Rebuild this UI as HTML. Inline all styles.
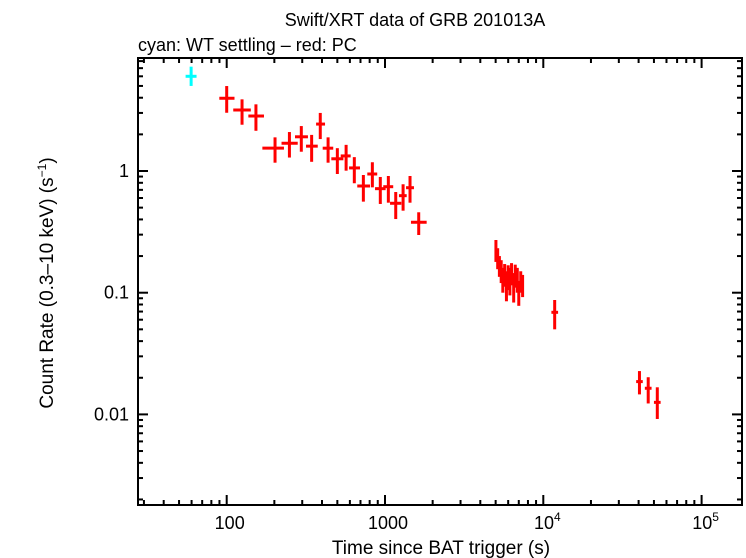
<!DOCTYPE html>
<html><head><meta charset="utf-8"><style>
body{margin:0;background:#fff;}
svg{display:block;font-family:"Liberation Sans",sans-serif;}
</style></head><body>
<svg id="chart" width="746" height="558" viewBox="0 0 746 558">
<text x="415" y="26" font-size="18" text-anchor="middle">Swift/XRT data of GRB 201013A</text>
<text x="138" y="51" font-size="18">cyan: WT settling – red: PC</text>
<text x="441" y="554" font-size="19" text-anchor="middle">Time since BAT trigger (s)</text>
<text transform="translate(53,283) rotate(-90)" font-size="19" text-anchor="middle">Count Rate (0.3–10 keV) (s<tspan font-size="12" dy="-7">−1</tspan><tspan dy="7">)</tspan></text>
<g id="ticks"></g><g id="marks"></g>
<rect x="138" y="58" width="604" height="447" fill="none" stroke="#000" stroke-width="2"/>
</svg>
<script>
const wtT=[59.6], wtTlo=[55], wtThi=[64.5], wtR=[6.0], wtRlo=[5.0], wtRhi=[7.2];
const pcT=[100,125,153,202,249,296,344,390,437,500,568,640,730,832,934,1050,1169,1301,1439,1633,
5020,5150,5280,5420,5550,5700,5850,6000,6150,6300,6500,6650,6850,7000,7200,7400,11800,40500,46000,52500];
const pcTlo=[89.8,110,137,168,222,270,317,367,404,458,525,593,668,773,865,975,1076,1225,1358,1459,
4950,5080,5200,5340,5470,5620,5770,5910,6060,6200,6400,6550,6750,6900,7100,7300,11250,38600,43800,50000];
const pcThi=[112,142,172,230,281,326,376,418,471,546,607,695,804,893,1009,1127,1268,1371,1524,1833,
5090,5220,5360,5500,5630,5780,5930,6090,6240,6400,6600,6750,6950,7100,7300,7550,12400,42500,48300,55100];
const pcR=[3.96,3.17,2.83,1.54,1.69,1.91,1.60,2.43,1.54,1.26,1.33,1.06,0.753,0.945,0.716,0.743,0.543,0.627,0.729,0.379,
0.224,0.19,0.165,0.15,0.128,0.14,0.118,0.135,0.125,0.145,0.115,0.14,0.13,0.1,0.125,0.115,0.069,0.0186,0.0164,0.01256];
const pcRlo=[3.01,2.40,2.14,1.17,1.29,1.44,1.19,1.83,1.17,0.945,1.006,0.793,0.560,0.734,0.536,0.549,0.403,0.472,0.549,0.298,
0.179,0.156,0.135,0.12,0.1,0.112,0.085,0.105,0.095,0.115,0.083,0.11,0.1,0.078,0.1,0.092,0.050,0.0146,0.0123,0.00917];
const pcRhi=[4.99,3.88,3.53,1.89,2.09,2.34,1.98,3.0,1.89,1.54,1.64,1.30,0.927,1.18,0.893,0.910,0.672,0.778,0.910,0.458,
0.271,0.232,0.2,0.185,0.16,0.172,0.15,0.168,0.16,0.175,0.145,0.17,0.16,0.125,0.15,0.14,0.0871,0.0227,0.0202,0.0167];
const xTickVals=[100,1000,10000,100000];
const xTickLabels=["100","1000","10|4","10|5"];
const yTickVals=[1,0.1,0.01];
const yTickLabels=["1","0.1","0.01"];

const L=138,R=742,T=58,B=505;
const X=t=>226.7+(Math.log10(t)-2)*158.3;
const Y=r=>171-Math.log10(r)*121.7;
const NS="http://www.w3.org/2000/svg";
function mk(tag,attrs,parent){const e=document.createElementNS(NS,tag);for(const k in attrs)e.setAttribute(k,attrs[k]);parent.appendChild(e);return e;}
const tg=document.getElementById('ticks'), mg=document.getElementById('marks');
for(let d=1;d<=5;d++){for(let m=1;m<10;m++){const v=m*Math.pow(10,d);const x=X(v);if(x<L||x>R)continue;const len=m===1?10:5;
const a=mk('line',{x1:x,x2:x,y1:B,y2:B-len,stroke:'#000','stroke-width':2},tg);


const b=mk('line',{x1:x,x2:x,y1:T,y2:T+len,stroke:'#000','stroke-width':2},tg);

}}
for(let d=-3;d<=1;d++){for(let m=1;m<10;m++){const v=m*Math.pow(10,d);const y=Y(v);if(y<T||y>B)continue;const len=m===1?10:5;
const a=mk('line',{x1:L,x2:L+len,y1:y,y2:y,stroke:'#000','stroke-width':2},tg);


const b=mk('line',{x1:R,x2:R-len,y1:y,y2:y,stroke:'#000','stroke-width':2},tg);

}}
xTickVals.forEach((v,i)=>{const parts=xTickLabels[i].split('|');const t=mk('text',{x:X(v)+(parts[1]?4:3),y:529,'font-size':18,'text-anchor':'middle'},tg);


t.textContent=parts[0];if(parts[1]){const s=mk('tspan',{'font-size':12,dy:-8},t);s.textContent=parts[1];}});
yTickVals.forEach((v,i)=>{const t=mk('text',{x:129,y:Y(v)+6,'font-size':18,'text-anchor':'end'},tg);


t.textContent=yTickLabels[i];});
function draw(T_,Tl,Th,Rv,Rl,Rh,col,name){for(let i=0;i<T_.length;i++){const g=mk('g',{stroke:col,'stroke-width':3},mg);


mk('line',{x1:X(Tl[i]),x2:X(Th[i]),y1:Y(Rv[i]),y2:Y(Rv[i])},g);
mk('line',{x1:X(T_[i]),x2:X(T_[i]),y1:Y(Rh[i]),y2:Y(Rl[i])},g);}}
draw(wtT,wtTlo,wtThi,wtR,wtRlo,wtRhi,'#00ffff','wt-point');
draw(pcT,pcTlo,pcThi,pcR,pcRlo,pcRhi,'#ff0000','pc-point');
</script>
</body></html>
